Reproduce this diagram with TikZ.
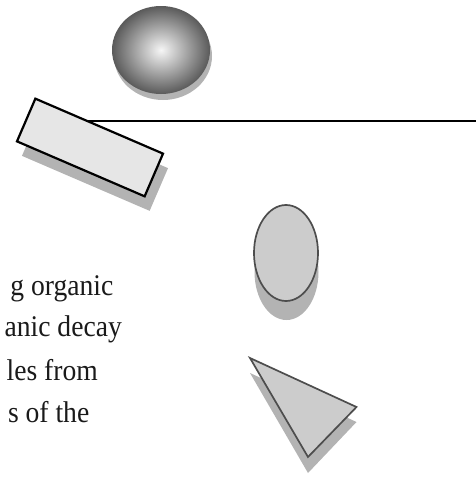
\documentclass[tikz,border=0pt]{standalone}
\usepackage{fontspec}
\setmainfont{Liberation Serif}
\newfontfamily\bodytext[FakeStretch=0.92]{Liberation Serif}
\usetikzlibrary{shapes.geometric}
\definecolor{shadowgray}{HTML}{B3B3B3}
\definecolor{shapefill}{HTML}{CCCCCC}
\definecolor{shapeline}{HTML}{4D4D4D}
\definecolor{boxfill}{HTML}{E6E6E6}
\definecolor{ballin}{HTML}{F6F6F6}
\definecolor{ballout}{HTML}{5A5A5A}
\definecolor{textcol}{HTML}{1A1A1A}
\tikzset{
  shadowshape/.style={fill=shadowgray, draw=none, inner sep=0pt},
  grayshape/.style={fill=shapefill, draw=shapeline, line width=1.7pt, inner sep=0pt},
  boxshape/.style={fill=boxfill, draw=black, line width=2.2pt, inner sep=0pt, rectangle,
    minimum width=139pt, minimum height=46.5pt, rotate=-23.3},
  ballshape/.style={ellipse, inner sep=0pt, minimum width=98pt, minimum height=88pt},
  eggshape/.style={ellipse, minimum width=64pt, minimum height=96pt},
  textline/.style={anchor=base east, inner sep=0pt, text=textcol,
    font=\bodytext\fontsize{30pt}{36pt}\selectfont},
  rule/.style={draw=black, line width=2pt}
}
\begin{document}
\begin{tikzpicture}[x=1pt,y=-1pt]
\useasboundingbox (0,0) rectangle (475,477);
% ball
\node[ballshape, shadowshape] (ballshadow) at (163,56) {};
\node[ballshape, inner color=ballin, outer color=ballout] (ball) at (161,50) {};
% rectangle shadow
\node[boxshape, shadowshape] (boxshadow) at (95,162) {};
% line
\coordinate (linestart) at (60,120.5);
\coordinate (lineend) at (476,120.5);
\draw[rule] (linestart) -- (lineend);
% rectangle
\node[boxshape] (box) at (90,147.5) {};
% egg
\node[eggshape, shadowshape] (eggshadow) at (286.5,272) {};
\node[eggshape, grayshape] (egg) at (286,253) {};
% triangle
\coordinate (ta) at (250,358);
\coordinate (tb) at (356.5,407);
\coordinate (tc) at (308,457);
\fill[shadowgray] ([yshift=-15pt]ta) -- ([yshift=-15pt]tb) -- ([yshift=-16pt]tc) -- cycle;
\draw[fill=shapefill, draw=shapeline, line width=1.7pt, line join=miter] (ta) -- (tb) -- (tc) -- cycle;
% text
\node[textline] (t1) at (113.5,295.5) {g organic};
\node[textline] (t2) at (122,336) {anic decay};
\node[textline] (t3) at (98,380.5) {les from};
\node[textline] (t4) at (89.5,422.5) {s of the};
\end{tikzpicture}
\end{document}
